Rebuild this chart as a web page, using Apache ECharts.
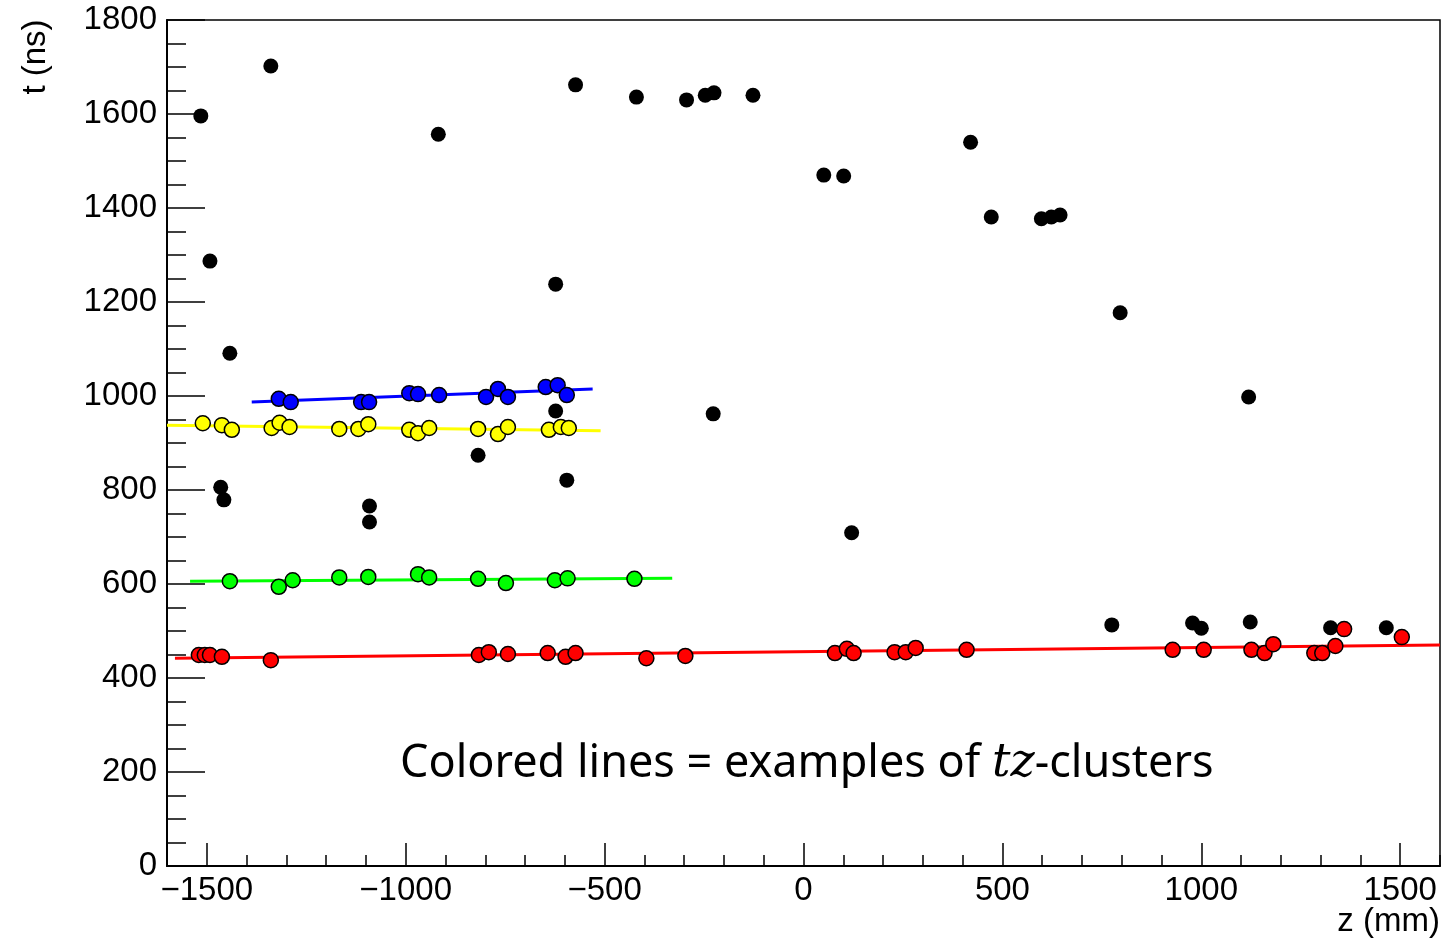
<!DOCTYPE html>
<html>
<head>
<meta charset="utf-8">
<script src="https://cdn.jsdelivr.net/npm/echarts@6/dist/echarts.min.js"></script>
<style>
html,body{margin:0;padding:0;background:#fff;}
#chart{width:1452px;height:942px;}
</style>
</head>
<body>
<div id="chart"></div>
<script>
// ---- data (z in mm, t in ns) ----
const blackZ = [-1515,-1339,-1492,-1442,-1465,-1457,-918,-623,-573,-420,-294,-247,-225,-127,51,101,420,472,598,623,645,796,1119,-227,121,-623,-818,-595,-1091,-1091,775,978,1000,1123,1325,1465];
const blackT = [1596,1702,1287,1091,806,779,1557,1238,1662,1636,1630,1640,1645,1640,1470,1468,1540,1381,1377,1381,1385,1177,998,962,709,968,874,821,766,732,513,517,506,519,507,507];

const blueZ = [-1319,-1289,-1112,-1092,-991,-969,-916,-798,-768,-743,-648,-618,-595];
const blueT = [994,987,987,987,1006,1004,1002,998,1015,998,1019,1023,1002];

const yellowZ = [-1510,-1462,-1437,-1337,-1317,-1292,-1167,-1119,-1094,-991,-969,-941,-818,-768,-743,-640,-610,-590];
const yellowT = [942,938,928,932,943,934,930,930,940,928,921,932,930,919,934,928,934,932];

const greenZ = [-1442,-1319,-1284,-1167,-1094,-969,-941,-818,-748,-625,-593,-425];
const greenT = [606,594,608,614,615,621,614,611,602,608,612,611];

const redZ = [-1520,-1505,-1492,-1462,-1339,-816,-791,-743,-643,-598,-573,-395,-297,79,109,126,229,257,282,410,928,1006,1126,1159,1181,1284,1304,1337,1359,1504];
const redT = [449,449,449,445,438,449,455,451,453,445,453,442,447,453,462,453,455,455,464,460,460,460,460,453,472,453,453,468,504,487];

// fitted cluster lines (end points)
const blueLineZ = [-1387,-530],   blueLineT = [987,1015];
const yellowLineZ = [-1600,-510], yellowLineT = [938,926];
const greenLineZ = [-1542,-330],  greenLineT = [606,612];
const redLineZ = [-1580,1600],    redLineT = [442,470];

// axes
const zMin = -1600, zMax = 1600, zMajor = 500, zMinor = 100;
const tMin = 0, tMax = 1800, tMajor = 200;

const xTitle = 'z (mm)';
const yTitle = 't (ns)';

// ---- build ----
const pair = (zs, ts) => zs.map((z, i) => [z, ts[i]]);
const FONT = 'Liberation Sans, Arial, sans-serif';
const chart = echarts.init(document.getElementById('chart'), null, {renderer: 'canvas'});

const GL = 167, GR = 12, GT = 20, GB = 76;
const pxPerUnit = (1452 - GL - GR) / (zMax - zMin);
const shift = (zMajor * Math.ceil(zMin / zMajor) - zMin) * pxPerUnit;

function lineSeries(zs, ts, color) {
  return {type: 'line', xAxisIndex: 0, yAxisIndex: 0, data: pair(zs, ts), showSymbol: false, symbol: 'none',
    lineStyle: {color: color, width: 3}, silent: true, z: 2};
}
function ptSeries(zs, ts, color, border) {
  return {type: 'scatter', xAxisIndex: 0, yAxisIndex: 0, data: pair(zs, ts), symbol: 'circle', symbolSize: 15,
    itemStyle: {color: color, borderColor: '#000', borderWidth: border, opacity: 1}, z: 3};
}

const option = {
  backgroundColor: '#fff',
  animation: false,
  grid: [
    {left: GL, right: GR, top: GT, bottom: GB, show: true, borderColor: '#000', borderWidth: 1.5, containLabel: false},
    {left: GL + shift, right: GR + shift, top: GT, bottom: GB, show: false, containLabel: false}
  ],
  xAxis: [
    {type: 'value', gridIndex: 0, min: zMin, max: zMax, interval: zMinor,
      axisLine: {show: true, onZero: false, lineStyle: {color: '#000', width: 2}},
      axisTick: {show: true, inside: true, length: 11, lineStyle: {color: '#000', width: 1.5}},
      axisLabel: {show: false}, splitLine: {show: false}},
    {type: 'value', gridIndex: 1, min: -1500, max: 1500, interval: zMajor,
      axisLine: {show: false, onZero: false},
      axisTick: {show: true, inside: true, length: 23, lineStyle: {color: '#000', width: 1.5}},
      axisLabel: {show: true, margin: 8, color: '#000', fontSize: 33, fontFamily: FONT,
        formatter: v => (v < 0 ? '\u2212' + Math.abs(v) : String(v))},
      splitLine: {show: false}}
  ],
  yAxis: [
    {type: 'value', gridIndex: 0, min: tMin, max: tMax, interval: tMajor,
      axisLine: {show: true, onZero: false, lineStyle: {color: '#000', width: 2}},
      axisTick: {show: true, inside: true, length: 38, lineStyle: {color: '#000', width: 1.5}},
      minorTick: {show: true, splitNumber: 4, length: 19, lineStyle: {color: '#000', width: 1.5}},
      axisLabel: {show: true, margin: 10, color: '#000', fontSize: 33, fontFamily: FONT, formatter: v => String(v)},
      splitLine: {show: false}, minorSplitLine: {show: false}},
    {type: 'value', gridIndex: 1, min: tMin, max: tMax, show: false}
  ],
  series: [
    lineSeries(blueLineZ, blueLineT, '#0000ff'),
    lineSeries(yellowLineZ, yellowLineT, '#ffff00'),
    lineSeries(greenLineZ, greenLineT, '#00ff00'),
    lineSeries(redLineZ, redLineT, '#ff0000'),
    ptSeries(blackZ, blackT, '#000000', 0),
    ptSeries(blueZ, blueT, '#0000ff', 1.5),
    ptSeries(yellowZ, yellowT, '#ffff00', 1.5),
    ptSeries(greenZ, greenT, '#00ff00', 1.5),
    ptSeries(redZ, redT, '#ff0000', 1.5)
  ],
  graphic: [
    {type: 'text', x: 1440, y: 922, style: {text: xTitle, fill: '#000', font: '33px ' + FONT, textAlign: 'right', textVerticalAlign: 'middle'}},
    {type: 'text', x: 36, y: 57, rotation: Math.PI / 2, style: {text: yTitle, fill: '#000', font: '33px ' + FONT, textAlign: 'center', textVerticalAlign: 'middle'}},
    {type: 'text', x: 400, y: 764, z: 10,
      style: {
        text: '{a|Colored lines = examples of }{b|tz}{a|-clusters}',
        textVerticalAlign: 'middle', textAlign: 'left',
        rich: {
          a: {fontSize: 45, fontFamily: 'Noto Sans, Open Sans, sans-serif', fill: '#000', color: '#000'},
          b: {fontSize: 46, fontFamily: 'DejaVu Serif, Liberation Serif, serif', fontStyle: 'italic', fill: '#000', color: '#000'}
        }
      }}
  ]
};
chart.setOption(option);
</script>
</body>
</html>
